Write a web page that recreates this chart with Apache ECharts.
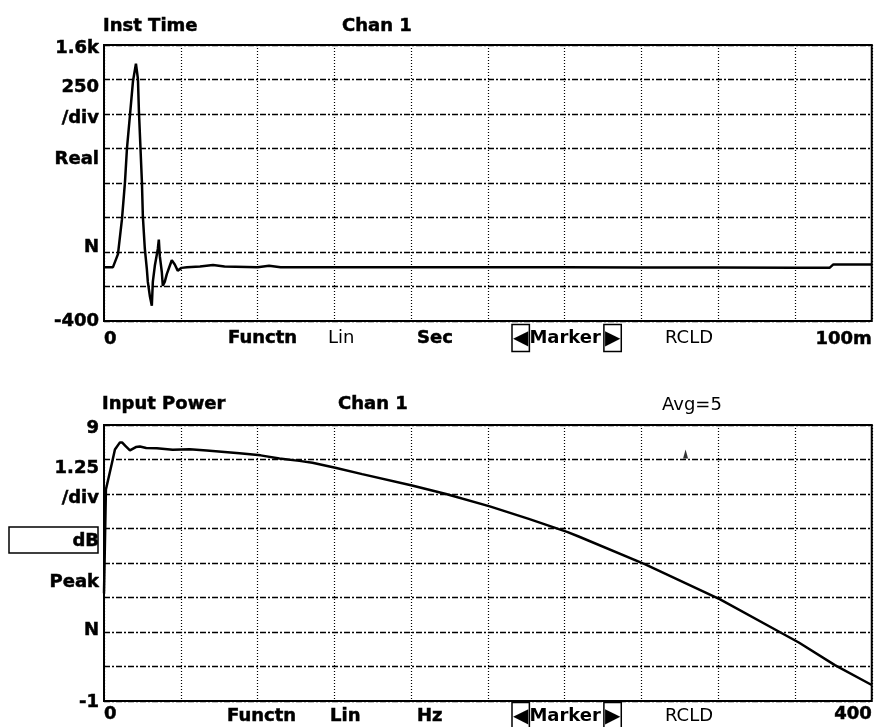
<!DOCTYPE html>
<html><head><meta charset="utf-8">
<script src="https://cdn.jsdelivr.net/npm/echarts@6/dist/echarts.min.js"></script>
<style>html,body{margin:0;padding:0;background:#fff}#c{width:875px;height:727px}</style>
</head><body><div id="c"></div>
<script>
// ---- Data ----
const TIME_MS = [0, 1.17, 1.82, 2.34, 2.73, 2.99, 3.38, 3.77, 4.16, 4.42, 4.55, 4.94, 5.06, 5.32, 5.58, 5.71, 5.97, 6.23, 6.36, 6.62, 7.01, 7.14, 7.27, 7.53, 7.66, 7.92, 8.18, 8.57, 8.83, 9.22, 9.6, 10.1, 10.8, 12.5, 14.2, 15.7, 20, 21.5, 23, 30, 40, 50, 60, 70, 80, 90, 94.5, 95, 100];
const TIME_VAL = [-10, -10, 85, 338, 605, 850, 1090, 1335, 1465, 1355, 1118, 605, 360, 122, -23, -117, -218, -290, -117, 0, 122, 190, 70, -45, -145, -115, -60, 0, 40, 10, -35, -15, -10, -5, 5, -5, -10, 0, -10, -10, -10, -10, -10, -12, -12, -15, -15, 10, 10];

const FREQ_HZ = [0, 1.0, 4.2, 5.7, 8.3, 9.4, 11, 13.5, 16.6, 18.7, 22, 27.5, 35.8, 44.6, 53.5, 70.6, 81.6, 91.4, 101.8, 108.6, 120.5, 134.5, 160.5, 178.2, 201, 221.3, 241.6, 247.3, 282, 321, 352, 362, 380.8, 400];
const POWER_DB = [2.9, 6.66, 7.64, 8.11, 8.37, 8.37, 8.25, 8.08, 8.2, 8.22, 8.17, 8.16, 8.1, 8.12, 8.08, 7.98, 7.9, 7.79, 7.7, 7.63, 7.45, 7.22, 6.81, 6.5, 6.05, 5.6, 5.12, 4.96, 3.95, 2.68, 1.5, 1.12, 0.3, -0.42];

const MARKER_HZ = [303];
const MARKER_DB = [7.95];

// Tick labels (index = grid division from bottom, 0..8)
const TOP_Y_LABELS = ['-400', '', 'N', '', '', 'Real', '/div', '250', '1.6k'];
const BOTTOM_Y_LABELS = ['-1', '', 'N', '', 'Peak', 'dB', '/div', '1.25', '9'];
const TOP_X_TICKS = [0, 100];
const TOP_X_LABELS = ['0', '100m'];
const BOTTOM_X_TICKS = [0, 400];
const BOTTOM_X_LABELS = ['0', '400'];

const TOP_Y_RANGE = [-400, 1600];
const BOTTOM_Y_RANGE = [-1, 9];
const TOP_X_RANGE = [0, 100];
const BOTTOM_X_RANGE = [0, 400];

// ---- Styling ----
const FF = '"DejaVu Sans", Verdana, sans-serif';
const BOLD = 'bold 18px ' + FF;
const REG = '18px ' + FF;
const hDash = { color: '#000', width: 1.3, type: [6, 2, 2, 2] };
const vDot = { color: '#000', width: 1.2, type: [1, 2] };
const STROKE = 0.5;

function shiftRich(shifts) {
  const r = {};
  shifts.forEach((s, i) => {
    r['d' + i] = {
      fontFamily: FF, fontWeight: 'bold', fontSize: 18, color: '#000',
      textBorderColor: '#000', textBorderWidth: STROKE,
      padding: s >= 0 ? [2 * s, 0, 0, 0] : [0, 0, -2 * s, 0]
    };
  });
  return r;
}
const TOP_SHIFTS = [0, 0, -5, 0, 0, 11, 4, 8, 3];
const BOTTOM_SHIFTS = [1, 0, -2, 0, 19, 13, 4, 9, 3];

function divAxis(gridIndex, labels, shifts) {
  return {
    gridIndex, type: 'value', min: 0, max: 8, interval: 1, position: 'left',
    axisLine: { show: false }, axisTick: { show: false },
    splitLine: { show: true, lineStyle: hDash },
    axisLabel: {
      margin: 5, showMinLabel: true, showMaxLabel: true,
      formatter: v => { const t = labels[Math.round(v)]; return t ? '{d' + Math.round(v) + '|' + t + '}' : ''; },
      rich: shiftRich(shifts)
    }
  };
}
function xAxis(gridIndex, range, interval, ticks, labels, margin) {
  return {
    gridIndex, type: 'value', min: range[0], max: range[1], interval,
    axisLine: { show: false }, axisTick: { show: false },
    splitLine: { show: true, lineStyle: vDot },
    axisLabel: {
      margin, showMinLabel: true, showMaxLabel: true,
      alignMinLabel: 'left', alignMaxLabel: 'right',
      fontFamily: FF, fontWeight: 'bold', fontSize: 18, color: '#000',
      textBorderColor: '#000', textBorderWidth: STROKE,
      formatter: v => { const k = ticks.indexOf(v); return k >= 0 ? labels[k] : ''; }
    }
  };
}
function txt(x, y, text, font) {
  const bold = !font;
  return { type: 'text', x, y, style: { text, font: font || BOLD, fill: '#000', align: 'left', verticalAlign: 'middle',
    stroke: bold ? '#000' : null, lineWidth: bold ? STROKE : 0 } };
}
function markerBtn(x, y) {
  return {
    type: 'text', x, y,
    style: {
      text: '{b|◀}{m|Marker}{b|▶}', align: 'left', verticalAlign: 'middle', fill: '#000',
      rich: {
        b: { font: 'bold 20px ' + FF, fill: '#000', borderColor: '#000', borderWidth: 1.5, padding: [4, 1, 3, 1] },
        m: { font: BOLD, fill: '#000', padding: [0, 3, 0, 0] }
      }
    }
  };
}

const chart = echarts.init(document.getElementById('c'), null, { renderer: 'canvas' });
chart.setOption({
  animation: false,
  backgroundColor: '#fff',
  grid: [
    { left: 104, width: 770, top: 45, height: 276, show: true, borderColor: '#000', borderWidth: 2, backgroundColor: 'transparent' },
    { left: 104, width: 770, top: 425, height: 276, show: true, borderColor: '#000', borderWidth: 2, backgroundColor: 'transparent' }
  ],
  xAxis: [
    xAxis(0, TOP_X_RANGE, 10, TOP_X_TICKS, TOP_X_LABELS, 9),
    xAxis(1, BOTTOM_X_RANGE, 40, BOTTOM_X_TICKS, BOTTOM_X_LABELS, 4)
  ],
  yAxis: [
    { gridIndex: 0, type: 'value', min: TOP_Y_RANGE[0], max: TOP_Y_RANGE[1], show: false },
    divAxis(0, TOP_Y_LABELS, TOP_SHIFTS),
    { gridIndex: 1, type: 'value', min: BOTTOM_Y_RANGE[0], max: BOTTOM_Y_RANGE[1], show: false },
    divAxis(1, BOTTOM_Y_LABELS, BOTTOM_SHIFTS)
  ],
  series: [
    {
      type: 'line', xAxisIndex: 0, yAxisIndex: 0, showSymbol: false, silent: true,
      data: TIME_MS.map((t, i) => [t, TIME_VAL[i]]),
      lineStyle: { color: '#000', width: 2.5 }
    },
    {
      type: 'line', xAxisIndex: 1, yAxisIndex: 2, showSymbol: false, silent: true,
      data: FREQ_HZ.map((f, i) => [f, POWER_DB[i]]),
      lineStyle: { color: '#000', width: 2.5 }
    },
    {
      type: 'scatter', xAxisIndex: 1, yAxisIndex: 2, silent: true,
      symbol: 'triangle', symbolSize: [5, 9],
      data: MARKER_HZ.map((f, i) => [f, MARKER_DB[i]]),
      itemStyle: { color: '#000' }
    }
  ],
  graphic: [
    txt(103, 26, 'Inst Time'),
    txt(342, 26, 'Chan 1'),
    txt(228, 338, 'Functn'),
    txt(328, 338, 'Lin', REG),
    txt(417, 338, 'Sec'),
    markerBtn(512, 338),
    txt(665, 338, 'RCLD', REG),
    txt(102, 404, 'Input Power'),
    txt(338, 404, 'Chan 1'),
    txt(662, 405, 'Avg=5', REG),
    txt(227, 716, 'Functn'),
    txt(330, 716, 'Lin'),
    txt(417, 716, 'Hz'),
    markerBtn(512, 716),
    txt(665, 716, 'RCLD', REG),
    { type: 'rect', shape: { x: 9, y: 527, width: 89, height: 26 }, style: { fill: 'none', stroke: '#000', lineWidth: 1.5 } }
  ]
});
</script></body></html>
